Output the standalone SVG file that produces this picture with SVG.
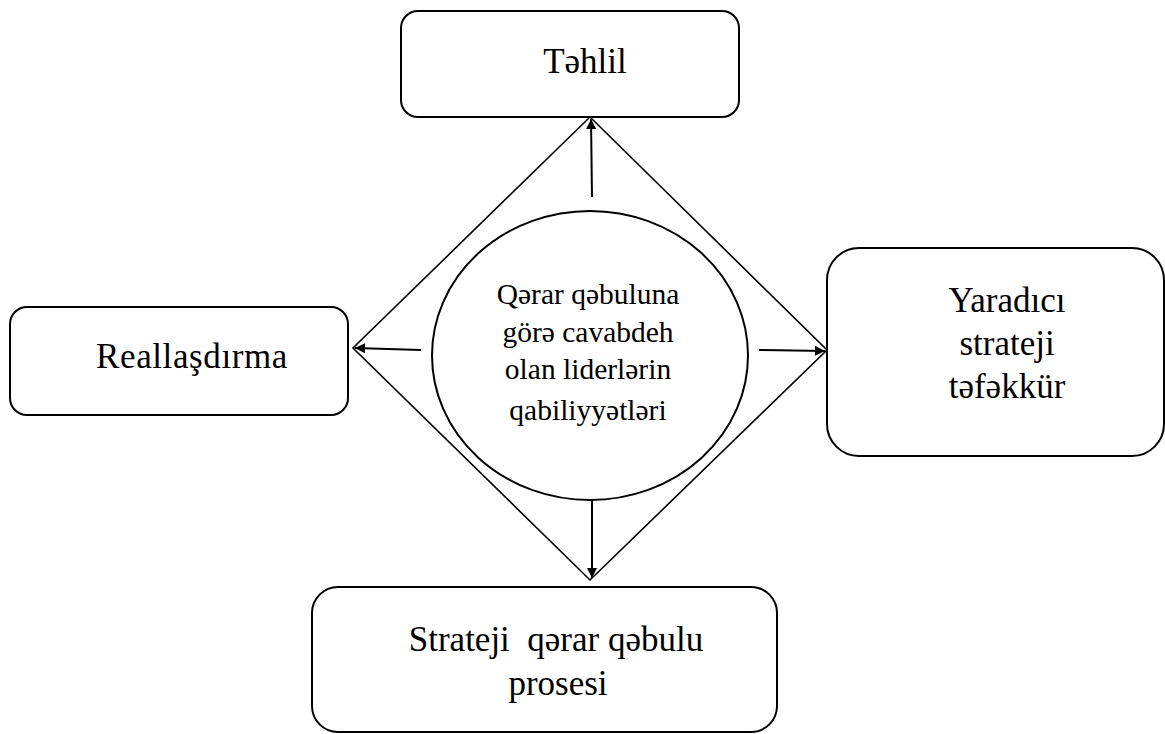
<svg xmlns="http://www.w3.org/2000/svg" width="1165" height="734" viewBox="0 0 1165 734">
<defs>
<style>
.box{fill:#fff;stroke:#000;stroke-width:2}
.ln{fill:none;stroke:#000;stroke-width:1.6}
.arr{fill:none;stroke:#000;stroke-width:2;marker-end:url(#ah)}
.t{font-family:"Liberation Serif","DejaVu Serif","Times New Roman",serif;font-size:35px;fill:#000;text-anchor:middle}
.tc{font-family:"Liberation Serif","DejaVu Serif","Times New Roman",serif;font-size:29.5px;fill:#000;text-anchor:middle}
</style>
<marker id="ah" viewBox="0 0 10 10" refX="10" refY="5" markerWidth="5" markerHeight="5" orient="auto" markerUnits="strokeWidth">
<path d="M0,0 L10,5 L0,10 Z" fill="#000"/>
</marker>
</defs>
<rect width="1165" height="734" fill="#fff"/>
<g id="diamond">
<path class="ln" d="M590,117 L827,350 L590,580 L353,348 Z"/>
</g>
<g id="center">
<ellipse class="box" cx="590" cy="355.5" rx="158" ry="144.5"/>
<text class="tc" x="588" y="304">Qərar qəbuluna</text>
<text class="tc" x="588" y="342">görə cavabdeh</text>
<text class="tc" x="588" y="379">olan liderlərin</text>
<text class="tc" x="588" y="420">qabiliyyətləri</text>
</g>
<g id="tehlil">
<rect class="box" x="401" y="11" width="338" height="106" rx="17"/>
<text class="t" x="585" y="73">Təhlil</text>
</g>
<g id="reallasdirma">
<rect class="box" x="10" y="307" width="338" height="108" rx="17"/>
<text class="t" x="192" y="368" letter-spacing="0.6">Reallaşdırma</text>
</g>
<g id="yaradici">
<rect class="box" x="827" y="248" width="337" height="208" rx="32"/>
<text class="t" x="1007" y="312">Yaradıcı</text>
<text class="t" x="1007" y="355">strateji</text>
<text class="t" x="1007" y="398">təfəkkür</text>
</g>
<g id="strateji">
<rect class="box" x="312" y="587" width="465" height="145" rx="26"/>
<text class="t" x="556" y="651" xml:space="preserve">Strateji  qərar qəbulu</text>
<text class="t" x="558" y="695">prosesi</text>
</g>
<g id="connectors">
<line class="arr" x1="592" y1="197" x2="591" y2="119"/>
<line class="arr" x1="421" y1="350" x2="355" y2="348"/>
<line class="arr" x1="759" y1="350" x2="825" y2="351"/>
<line class="arr" x1="592" y1="500" x2="592" y2="578"/>
</g>
</svg>
